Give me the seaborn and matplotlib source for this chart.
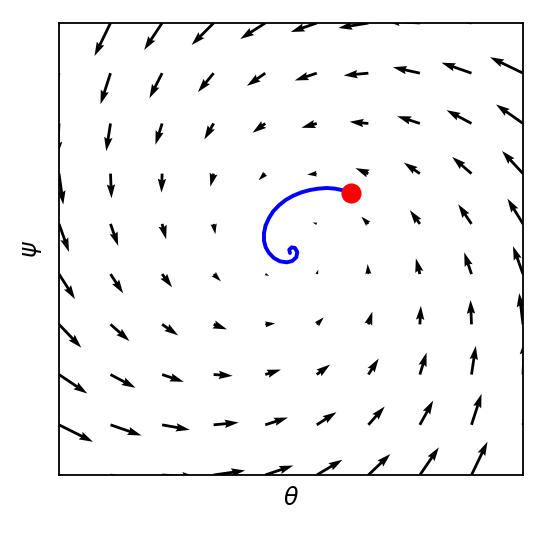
import numpy as np
import pandas as pd
import seaborn as sns
import matplotlib
matplotlib.use("Agg")
import matplotlib.pyplot as plt

# grid of the direction field
theta_grid = [-2.0, -1.556, -1.111, -0.667, -0.222, 0.222, 0.667, 1.111, 1.556, 2.0]
psi_grid = [2.0, 1.556, 1.111, 0.667, 0.222, -0.222, -0.667, -1.111, -1.556, -2.0]  # top row first

# arrow components (right, down), one row per psi value
u_rows = [
    [-14, -16, -18, -22, -25, -26, -30, -34, -37, -40],
    [-8, -10, -12.7, -15.7, -18.3, -22, -24.7, -27, -30, -33],
    [-1.5, -4.3, -6.7, -9.3, -12.7, -15.3, -18.7, -22.7, -25, -27],
    [4.3, 1, -0.7, -3.3, -6.7, -9.5, -13, -16, -19.3, -21],
    [10, 7.7, 4, 1.7, -1.5, -4, -7, -10, -13.3, -15.5],
    [16, 12.7, 10, 7.3, 4, 1.5, -0.7, -4, -7.3, -10],
    [22.3, 19, 16, 13.3, 10, 7, 4, 1, -1, -3.8],
    [28.3, 25, 21.7, 19, 15.7, 13.3, 10.3, 6.7, 4.3, 1.5],
    [34, 31, 27.7, 25, 22.7, 19.7, 16.3, 13.3, 10, 7.5],
    [40, 37, 34, 31.5, 28, 25.7, 22, 19, 16, 13.7],
]
d_rows = [
    [39, 33, 27, 22, 16, 9, 5, -2, -8, -14],
    [36.5, 31, 25, 19, 12.7, 7.3, 2.3, -6, -10.5, -16],
    [32, 27.7, 21.3, 16, 9.3, 4.3, -1.7, -7.3, -13.3, -19],
    [31, 24.7, 19, 13, 6.7, 1, -5.5, -11, -16.7, -22.7],
    [28, 22, 15.3, 10.3, 4.4, -1.5, -7.3, -13.7, -19.7, -25.3],
    [25, 19.3, 13.3, 7.3, 1.7, -4.3, -10, -15.7, -21.7, -28],
    [23.3, 16.7, 11, 5, -1, -7, -12.8, -18.5, -24.5, -31.3],
    [19, 13.3, 7.3, 1.3, -5, -10, -16, -22, -28.7, -34],
    [17, 10.7, 5, -2.3, -7.3, -12.7, -18.3, -24.3, -31, -36.5],
    [13.7, 7.9, 2, -4.5, -9.5, -15.3, -21, -27.7, -33.3, -39.3],
]

# trajectory (starts at the red dot)
traj_theta = [0.515, 0.437, 0.379, 0.308, 0.235, 0.164, 0.092, 0.020, -0.046, -0.103,
              -0.153, -0.190, -0.218, -0.233, -0.233, -0.218, -0.190, -0.147, -0.095, -0.037,
              0.011, 0.046, 0.054, 0.034, 0.006, -0.015, -0.009]
traj_psi = [0.496, 0.522, 0.534, 0.540, 0.534, 0.522, 0.502, 0.472, 0.434, 0.387,
            0.334, 0.274, 0.210, 0.142, 0.073, 0.015, -0.035, -0.080, -0.109, -0.118,
            -0.106, -0.073, -0.027, 0.009, 0.015, -0.006, -0.035]

sns.set_style("white")

fig = plt.figure(figsize=(5.47, 5.35), dpi=100)
ax = fig.add_axes([59 / 547, 1 - 475 / 535, 464 / 547, 452 / 535])

TH, PS = np.meshgrid(theta_grid, psi_grid)
U = np.array(u_rows)
V = -np.array(d_rows)
ax.quiver(TH, PS, U, V, color="black", angles="uv", scale_units="dots", scale=1)

traj = pd.DataFrame({"theta": traj_theta, "psi": traj_psi})
sns.lineplot(data=traj, x="theta", y="psi", sort=False, estimator=None,
             color="#0000ff", lw=2.8, ax=ax)
ax.plot(traj_theta[0], traj_psi[0], "o", color="#ff0000", markersize=13.5, zorder=5)

ax.set_xlim(-2, 2)
ax.set_ylim(-2, 2)
ax.set_xticks([])
ax.set_yticks([])
ax.set_xlabel(r"$\theta$", fontsize=17, color="black", labelpad=8)
ax.set_ylabel(r"$\psi$", fontsize=17, color="black", labelpad=11)
for s in ax.spines.values():
    s.set_color("black")
    s.set_linewidth(1.3)

plt.savefig("out.png", dpi=100)
